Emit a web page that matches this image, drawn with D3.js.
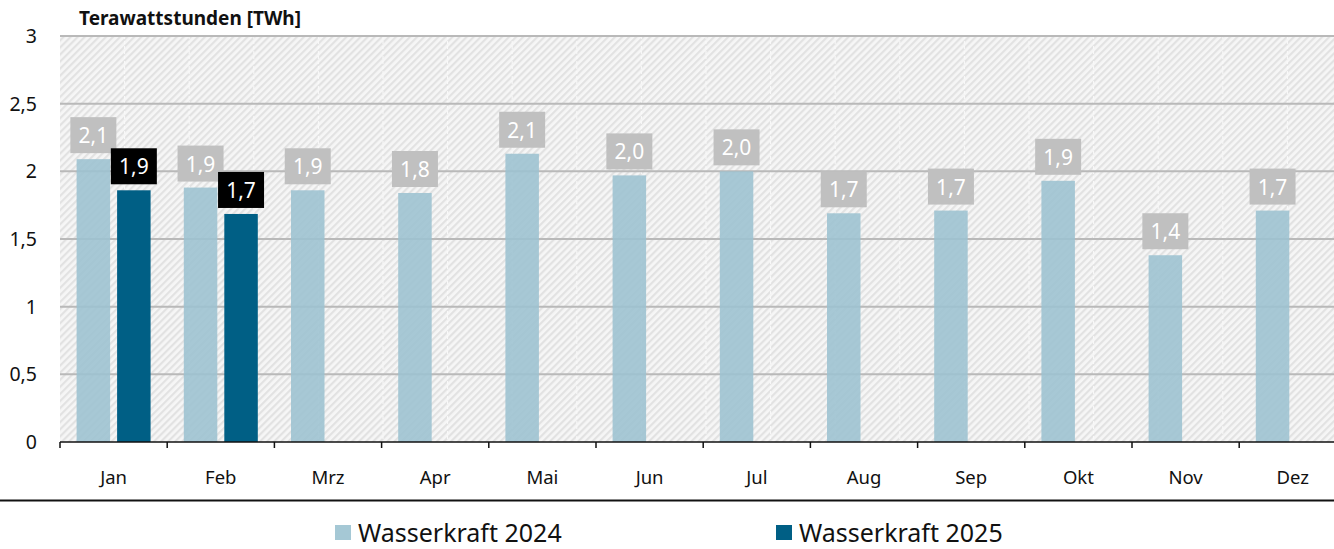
<!DOCTYPE html>
<html>
<head>
<meta charset="utf-8">
<script src="https://cdn.jsdelivr.net/npm/d3@7"></script>
<style>
  body { margin: 0; background: #fff; }
  svg { display: block; font-family: "Noto Sans", sans-serif; }
</style>
</head>
<body>
<div id="chart"></div>
<script>
const months = ["Jan", "Feb", "Mrz", "Apr", "Mai", "Jun", "Jul", "Aug", "Sep", "Okt", "Nov", "Dez"];
const values2024 = [2.09, 1.88, 1.86, 1.84, 2.13, 1.97, 2.0, 1.69, 1.71, 1.93, 1.38, 1.71];
const values2025 = [1.86, 1.685];
const yTicks = [0, 0.5, 1, 1.5, 2, 2.5, 3];
const seriesNames = ["Wasserkraft 2024", "Wasserkraft 2025"];

const width = 1334, height = 549;
const plotLeft = 60, plotTop = 36, plotBottom = 442;
const step = 107.2;

const de = d3.formatLocale({ decimal: ",", thousands: ".", grouping: [3], currency: ["", " €"] });
const fmt = de.format(".1f");
const tickFmt = d => de.format("")(d);

const svg = d3.select("#chart").append("svg")
  .attr("width", width).attr("height", height);

const defs = svg.append("defs");
const hatch = defs.append("pattern")
  .attr("id", "hatch").attr("patternUnits", "userSpaceOnUse")
  .attr("width", 5).attr("height", 5)
  .attr("patternTransform", "rotate(45)");
hatch.append("rect").attr("width", 5).attr("height", 5).attr("fill", "#f6f6f6");
hatch.append("rect").attr("width", 2.2).attr("height", 5).attr("fill", "#e2e2e2");

const x0 = d3.scaleBand().domain(months).range([plotLeft, plotLeft + step * months.length]);
const x1 = d3.scaleBand().domain(["2024", "2025"]).range([0, x0.bandwidth()])
  .paddingInner(0.173).paddingOuter(0.41);
const y = d3.scaleLinear().domain([0, 3]).range([plotBottom, plotTop]);

// hatched background
svg.append("rect")
  .attr("x", plotLeft).attr("y", plotTop)
  .attr("width", width - plotLeft).attr("height", plotBottom - plotTop)
  .attr("fill", "url(#hatch)");

// faint background tile lines
const tileLines = d3.range(plotLeft + 64.6, width, 64.6);
svg.append("g").selectAll("line").data(tileLines).join("line")
  .attr("x1", d => d).attr("x2", d => d)
  .attr("y1", plotTop).attr("y2", plotBottom)
  .attr("stroke", "#fafafa").attr("stroke-width", 1).attr("stroke-dasharray", "3,2");

// gridlines
svg.append("g").selectAll("line").data(yTicks.filter(d => d > 0)).join("line")
  .attr("x1", plotLeft).attr("x2", width)
  .attr("y1", d => y(d)).attr("y2", d => y(d))
  .attr("stroke", "#b9b9b9").attr("stroke-width", 2);

// y tick labels
svg.append("g").selectAll("text").data(yTicks).join("text")
  .attr("x", 37).attr("y", d => y(d) + 7)
  .attr("text-anchor", "end")
  .attr("font-size", 19.5).attr("fill", "#111")
  .text(tickFmt);

// title
svg.append("text")
  .attr("x", 79).attr("y", 25)
  .attr("font-size", 19).attr("font-weight", "bold").attr("fill", "#111")
  .text("Terawattstunden [TWh]");

// bars
const g = svg.append("g");
g.selectAll("rect.b24").data(values2024).join("rect")
  .attr("class", "b24")
  .attr("x", (d, i) => x0(months[i]) + x1("2024"))
  .attr("y", d => y(d))
  .attr("width", x1.bandwidth())
  .attr("height", d => y(0) - y(d))
  .attr("fill", "#9cc2d0").attr("opacity", 0.88);

g.selectAll("rect.b25").data(values2025).join("rect")
  .attr("class", "b25")
  .attr("x", (d, i) => x0(months[i]) + x1("2025"))
  .attr("y", d => y(d))
  .attr("width", x1.bandwidth())
  .attr("height", d => y(0) - y(d))
  .attr("fill", "#005f85");

// value labels
function addLabels(data, key, boxFill) {
  const lg = svg.append("g").selectAll("g").data(data).join("g")
    .attr("transform", (d, i) => {
      const cx = x0(months[i]) + x1(key) + x1.bandwidth() / 2;
      return `translate(${cx},${y(d) - 6})`;
    });
  lg.append("rect")
    .attr("x", -23).attr("y", -36).attr("width", 46).attr("height", 36)
    .attr("fill", boxFill);
  lg.append("text")
    .attr("y", -10).attr("text-anchor", "middle")
    .attr("font-size", 21).attr("fill", "#fff")
    .text(d => fmt(d));
}
addLabels(values2024, "2024", "#c0c0c0");
addLabels(values2025, "2025", "#000");

// x axis
const xAxis = svg.append("g");
xAxis.append("line")
  .attr("x1", plotLeft).attr("x2", width)
  .attr("y1", plotBottom).attr("y2", plotBottom)
  .attr("stroke", "#111").attr("stroke-width", 1.5);
xAxis.selectAll("line.tick").data(months).join("line")
  .attr("class", "tick")
  .attr("x1", d => x0(d)).attr("x2", d => x0(d))
  .attr("y1", plotBottom).attr("y2", plotBottom + 6)
  .attr("stroke", "#111").attr("stroke-width", 1.5);
xAxis.selectAll("text").data(months).join("text")
  .attr("x", d => x0(d) + x0.bandwidth() / 2)
  .attr("y", 484)
  .attr("text-anchor", "middle")
  .attr("font-size", 18.5).attr("fill", "#111")
  .text(d => d);

// separator line
svg.append("line")
  .attr("x1", 0).attr("x2", width)
  .attr("y1", 500.5).attr("y2", 500.5)
  .attr("stroke", "#111").attr("stroke-width", 2);

// legend
const legendX = [335, 776];
const legendColors = ["#a5c8d5", "#005f85"];
const leg = svg.append("g").selectAll("g").data(seriesNames).join("g")
  .attr("transform", (d, i) => `translate(${legendX[i]},525)`);
leg.append("rect").attr("width", 16).attr("height", 15)
  .attr("fill", (d, i) => legendColors[i]);
leg.append("text").attr("x", 23).attr("y", 17)
  .attr("font-size", 25).attr("fill", "#111")
  .text(d => d);
</script>
</body>
</html>
